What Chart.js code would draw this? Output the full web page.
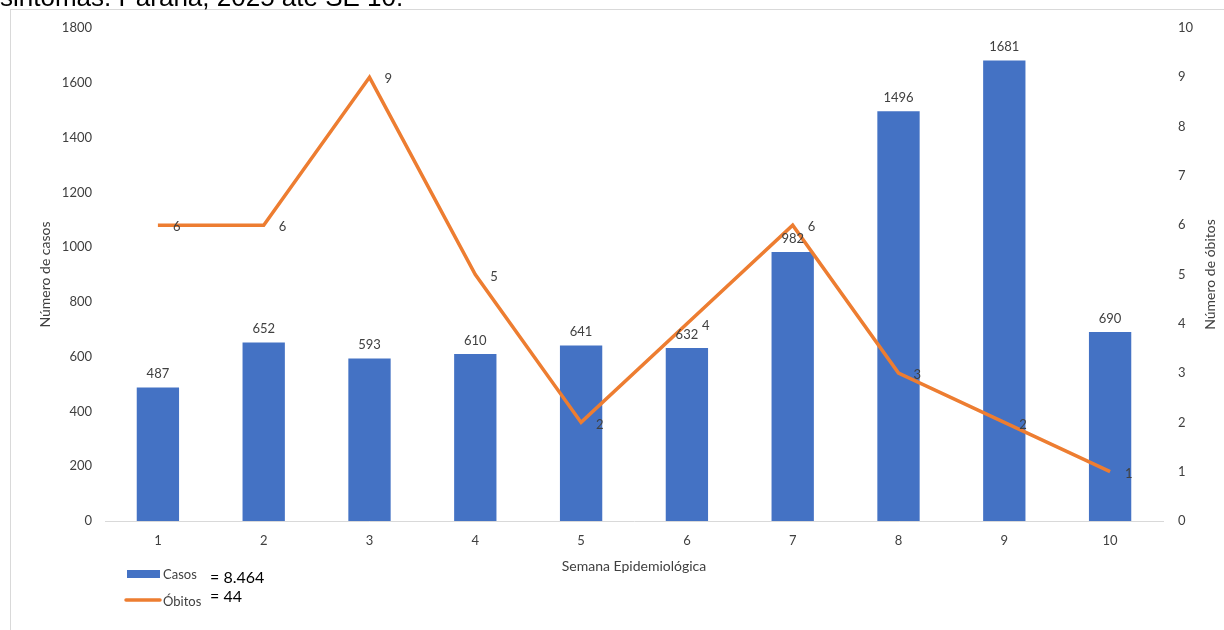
<!DOCTYPE html>
<html>
<head>
<meta charset="utf-8">
<script src="https://cdn.jsdelivr.net/npm/chart.js@4"></script>
<style>
  html, body { margin: 0; padding: 0; background: #fff; }
  #wrap { position: relative; width: 1224px; height: 630px; overflow: hidden; }
</style>
</head>
<body>
<div id="wrap"><canvas id="myChart" width="1224" height="630"></canvas></div>
<script>
var semanas = ["1", "2", "3", "4", "5", "6", "7", "8", "9", "10"];
var casos = [487, 652, 593, 610, 641, 632, 982, 1496, 1681, 690];
var obitos = [6, 6, 9, 5, 2, 4, 6, 3, 2, 1];
var titulo = "sintomas. Paraná, 2025 até SE 10.";

var fonte = "Lato, 'Noto Sans', sans-serif";
var azul = "#4472C4";
var laranja = "#ED7D31";
var texto = "#404040";

function soma(arr) {
  return arr.reduce(function (a, b) { return a + b; }, 0);
}

// labels, legend, titles and frame drawn on the canvas
var extras = {
  id: "extras",
  afterDatasetsDraw: function (chart) {
    var ctx = chart.ctx;
    ctx.save();
    ctx.font = "13px " + fonte;
    ctx.fillStyle = texto;

    var barras = chart.getDatasetMeta(0).data;
    ctx.textAlign = "center";
    ctx.textBaseline = "bottom";
    barras.forEach(function (bar, i) {
      ctx.fillText(casos[i], bar.x, bar.y - 7);
    });

    var pontos = chart.getDatasetMeta(1).data;
    ctx.textAlign = "left";
    ctx.textBaseline = "middle";
    pontos.forEach(function (p, i) {
      ctx.fillText(obitos[i], p.x + 15, p.y + 2);
    });
    ctx.restore();
  },
  afterDraw: function (chart) {
    var ctx = chart.ctx;
    var area = chart.chartArea;
    ctx.save();

    // frame
    ctx.strokeStyle = "#d9d9d9";
    ctx.lineWidth = 1;
    ctx.strokeRect(10.5, 9.5, 1300, 700);

    // clipped header text
    ctx.fillStyle = "#000";
    ctx.font = "26px 'Liberation Sans', Arial, sans-serif";
    ctx.textAlign = "left";
    ctx.textBaseline = "alphabetic";
    ctx.fillText(titulo, 0, 6);

    // axis titles
    ctx.fillStyle = texto;
    ctx.font = "14px " + fonte;
    ctx.textAlign = "center";
    ctx.textBaseline = "middle";
    ctx.fillText("Semana Epidemiológica", (area.left + area.right) / 2, 566);

    ctx.save();
    ctx.translate(45, (area.top + area.bottom) / 2);
    ctx.rotate(-Math.PI / 2);
    ctx.fillText("Número de casos", 0, 0);
    ctx.restore();

    ctx.save();
    ctx.translate(1210, (area.top + area.bottom) / 2);
    ctx.rotate(-Math.PI / 2);
    ctx.fillText("Número de óbitos", 0, 0);
    ctx.restore();

    // legend
    ctx.fillStyle = azul;
    ctx.fillRect(127, 570, 33, 8);
    ctx.strokeStyle = laranja;
    ctx.lineWidth = 3.5;
    ctx.lineCap = "round";
    ctx.beginPath();
    ctx.moveTo(126, 600);
    ctx.lineTo(160, 600);
    ctx.stroke();

    ctx.fillStyle = texto;
    ctx.textAlign = "left";
    ctx.font = "13px " + fonte;
    ctx.fillText(chart.data.datasets[0].label, 163, 575);
    ctx.fillText(chart.data.datasets[1].label, 163, 602);
    ctx.fillStyle = "#000";
    ctx.font = "16px " + fonte;
    ctx.fillText("= " + soma(casos).toLocaleString("pt-BR"), 210, 578);
    ctx.fillText("= " + soma(obitos), 210, 597);
    ctx.restore();
  }
};

new Chart("myChart", {
  data: {
    labels: semanas,
    datasets: [
      {
        type: "bar",
        label: "Casos",
        data: casos,
        backgroundColor: azul,
        yAxisID: "y",
        barPercentage: 0.4,
        categoryPercentage: 1,
        order: 2
      },
      {
        type: "line",
        label: "Óbitos",
        data: obitos,
        borderColor: laranja,
        borderWidth: 3.5,
        pointRadius: 0,
        tension: 0,
        yAxisID: "y2",
        order: 1
      }
    ]
  },
  options: {
    responsive: false,
    animation: false,
    layout: { padding: { top: 28, left: 0, right: 0, bottom: 0 } },
    plugins: {
      legend: { display: false },
      tooltip: { enabled: false }
    },
    scales: {
      x: {
        offset: true,
        grid: { display: false, drawTicks: false },
        border: { display: true, color: "#d9d9d9" },
        ticks: { color: texto, font: { family: fonte, size: 13 }, padding: 12 },
        afterFit: function (s) { s.height = 109; }
      },
      y: {
        position: "left",
        min: 0,
        max: 1800,
        grid: { display: false, drawTicks: false },
        border: { display: false },
        ticks: {
          stepSize: 200, color: texto, font: { family: fonte, size: 13 }, padding: 13,
          callback: function (v) { return String(v); }
        },
        afterFit: function (s) { s.width = 105; }
      },
      y2: {
        position: "right",
        min: 0,
        max: 10,
        grid: { display: false, drawTicks: false },
        border: { display: false },
        ticks: { stepSize: 1, color: texto, font: { family: fonte, size: 13 }, padding: 15 },
        afterFit: function (s) { s.width = 61; }
      }
    }
  },
  plugins: [extras]
});
</script>
</body>
</html>
